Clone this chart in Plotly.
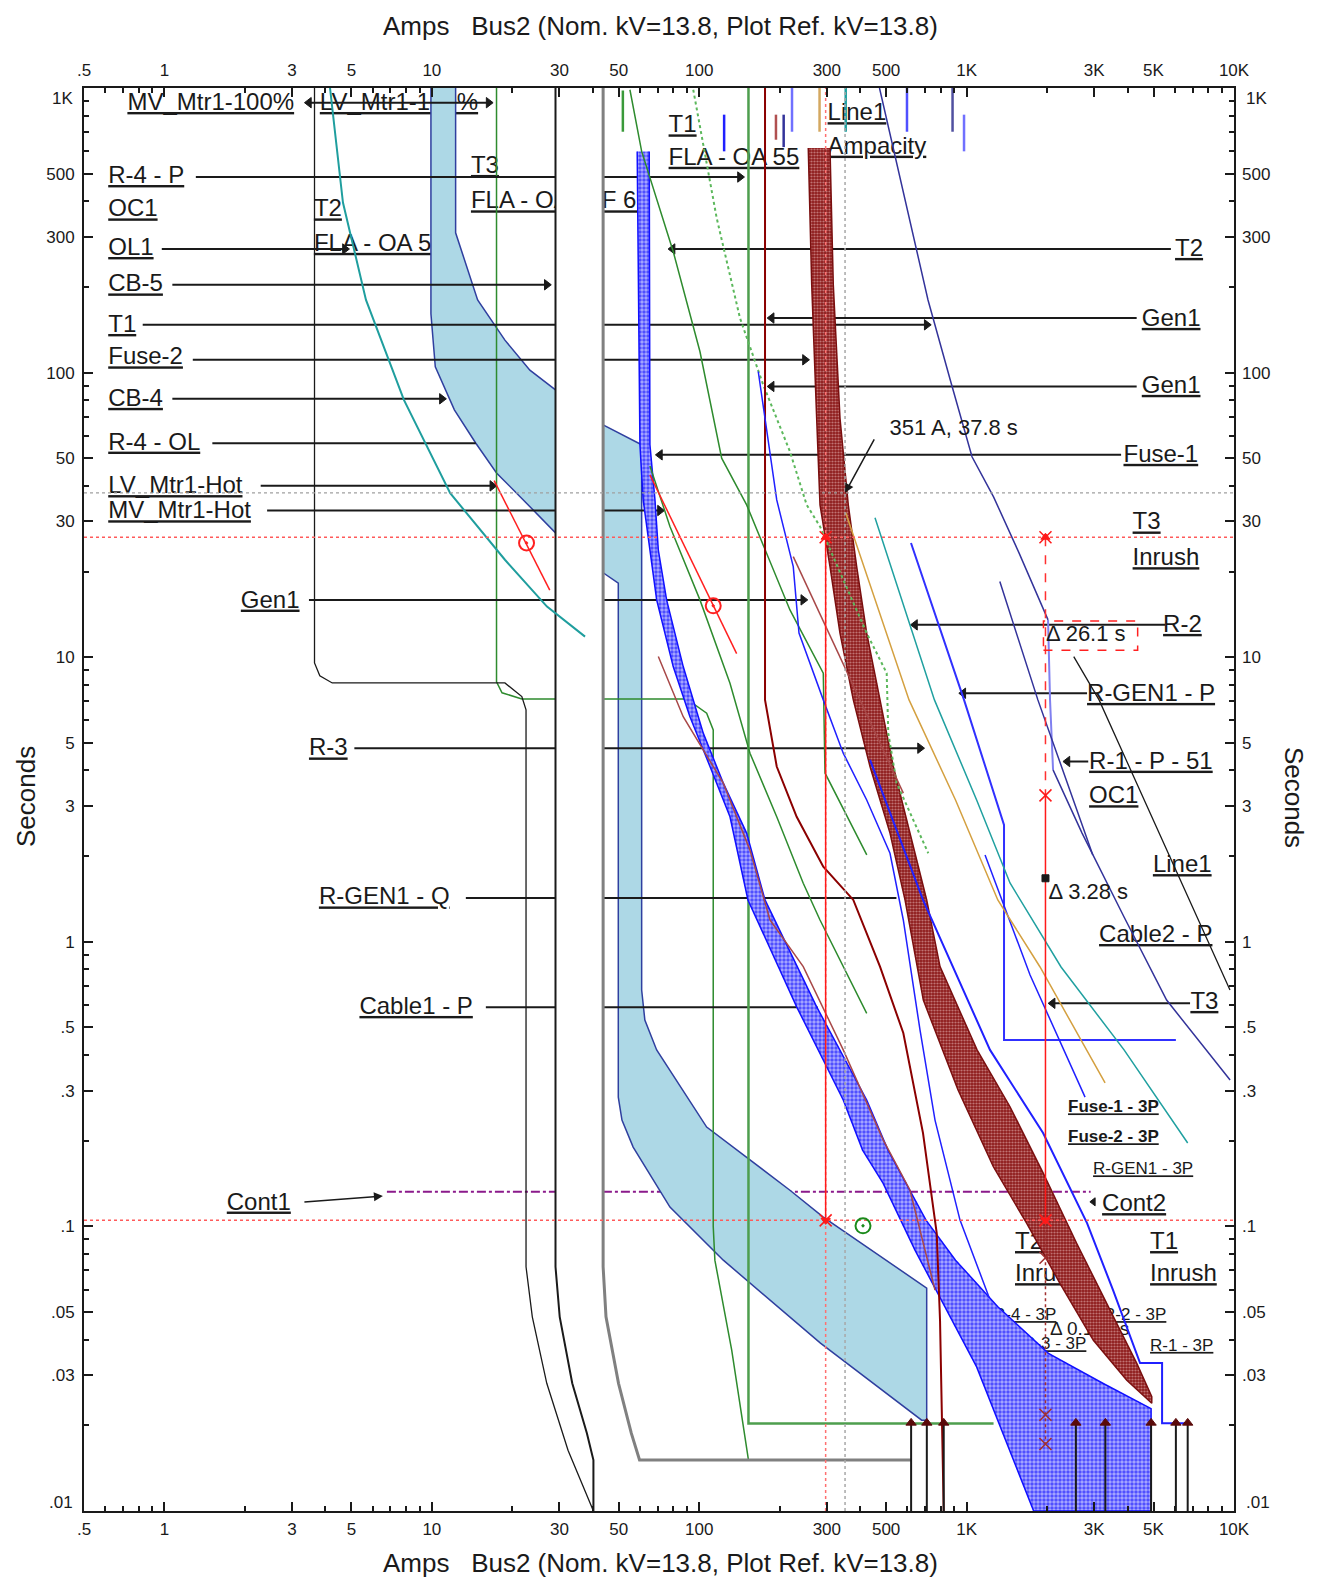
import math
import plotly.graph_objects as go

FONT = "Liberation Sans, Arial, sans-serif"
INK = "#1a1a1a"

# ---------------- axis ticks ----------------
X_TICKS = [0.5, 1, 3, 5, 10, 30, 50, 100, 300, 500, 1000, 3000, 5000, 10000]
X_TICKTEXT = ['.5', '1', '3', '5', '10', '30', '50', '100', '300', '500', '1K', '3K', '5K', '10K']
X_MINOR = [0.6, 0.7, 0.8, 0.9, 2, 4, 6, 7, 8, 9, 20, 40, 60, 70, 80, 90, 200, 400, 600, 700, 800, 900,
           2000, 4000, 6000, 7000, 8000, 9000]
Y_TICKS = [0.01, 0.03, 0.05, 0.1, 0.3, 0.5, 1, 3, 5, 10, 30, 50, 100, 300, 500, 1000]
Y_TICKTEXT = ['', '.03', '.05', '.1', '.3', '.5', '1', '3', '5', '10', '30', '50', '100', '300', '500', '']
Y_END_LABELS = ['1K', '.01']
Y_MINOR = [0.02, 0.04, 0.06, 0.07, 0.08, 0.09, 0.2, 0.4, 0.6, 0.7, 0.8, 0.9, 2, 4, 6, 7, 8, 9,
           20, 40, 60, 70, 80, 90, 200, 400, 600, 700, 800, 900]

# ---------------- bands ----------------
BAND1_A = [12.27, 12.27, 14.83, 18.76, 23.26, 29.0, 43.7, 60.9, 60.9, 62.6, 69.3, 106.6, 218.4, 291, 709, 709,
           679, 284, 123, 77.7, 56.6, 51.4, 49.8, 49.8, 43.7, 29.0, 22.5, 17.45, 14.56, 12.14, 10.3, 9.92, 9.92]
BAND1_S = [1000, 310, 180, 130, 102, 87, 65.5, 55.8, 0.677, 0.531, 0.417, 0.2234, 0.134, 0.1078, 0.0607, 0.02085,
           0.02085, 0.0389, 0.0761, 0.1169, 0.190, 0.2364, 0.2847, 18.2, 19.8, 27.35, 34.9, 44.4, 56.7, 74, 104.8, 161, 1000]

BAND2_A = [58.6, 60.0, 61.7, 65.4, 69.3, 79.9, 92.3, 109.7, 130.3, 152.1, 231.4, 345.6, 408.2, 486.8, 641, 1090, 1781,
           4897, 4897, 3243, 2023, 1308, 908.8, 704.8, 614, 508, 423, 274.9, 176.2, 150.4, 123, 103.5, 87.1, 75.5,
           70.3, 68.3, 65.4, 65.0]
BAND2_S = [598.6, 55.8, 35.7, 23.8, 15.9, 9.27, 6.18, 4.13, 2.75, 1.403, 0.591, 0.278, 0.1854, 0.142, 0.0825, 0.0321, 0.01,
           0.01, 0.0229, 0.02805, 0.0358, 0.0522, 0.0761, 0.1052, 0.134, 0.1854, 0.278, 0.591, 1.403, 2.41, 3.61, 5.41,
           9.27, 15.9, 23.8, 35.7, 55.8, 598.6]

BAND3_A = [255.7, 263.4, 274.9, 282.9, 308.3, 336, 376.9, 435.1, 516.9, 588.3, 688.7, 928.8, 1259, 1678, 2236, 2979,
           3972, 4926, 4926, 4329, 3440, 2582, 1936, 1453, 1094, 795.3, 709, 614.2, 531.9, 474.3, 423, 388, 360.9,
           336, 317.2, 308.3]
BAND3_S = [615.2, 203.5, 69.2, 34.3, 20.8, 12.15, 7.08, 4.13, 2.41, 1.403, 0.624, 0.3013, 0.162, 0.1024, 0.0630, 0.0398,
           0.0288, 0.0239, 0.0252, 0.0330, 0.0508, 0.0871, 0.1536, 0.2633, 0.417, 0.818, 1.403, 2.41, 4.13, 7.08, 12.15,
           20.8, 34.3, 69.2, 203.5, 615.2]

# ---------------- motor starting curves ----------------
M1_A = [3.64, 3.64, 3.81, 4.24, 18.76, 21.7, 22.5, 22.5, 23.75, 26.9, 32.3, 40.2]
M1_S = [1000, 9.55, 8.6, 8.12, 8.12, 7.27, 6.53, 0.0721, 0.0481, 0.0281, 0.01636, 0.01]
M2_A = [29.0, 29.0, 30.07, 33.5, 38.0, 40.2, 40.2]
M2_S = [1000, 0.0721, 0.0481, 0.0281, 0.01877, 0.0151, 0.01]
M3_A = [43.7, 43.7, 44.8, 49.9, 55.7, 59.8, 620]
M3_S = [1000, 0.0721, 0.0481, 0.0281, 0.01877, 0.0151, 0.0151]

# ---------------- other curves ----------------
TEAL_L_A = [4.16, 4.65, 5.67, 7.86, 11.71, 18.76, 26.95, 37.4]
TEAL_L_S = [1000, 396, 180, 80.2, 37.7, 22.0, 15.06, 11.81]
G1_A = [17.45, 17.45, 18.3, 21.7, 89.7, 106.6, 112.8, 112.8, 114.4, 132.3, 152.8]
G1_S = [1000, 8.2, 7.5, 7.135, 7.135, 6.36, 5.55, 0.1, 0.0761, 0.0367, 0.0151]
G2_A = [152.8, 152.8, 1261]
G2_S = [1000, 0.0203, 0.0203]
GA_A = [55.05, 60.9, 79.9, 100.6, 121.3, 150.4, 218.4, 291, 295.3, 423.2]
GA_S = [986, 598.6, 266.5, 118.6, 50.06, 34.3, 14.66, 8.79, 3.92, 2.02]
GB_A = [65.4, 77.7, 100.6, 130.3, 154.8, 194.9, 244.9, 282.9, 423]
GB_S = [47.0, 28.8, 15.9, 8.1, 4.6, 2.75, 1.605, 1.193, 0.5607]
GD_A = [94.97, 116.2, 142, 173.5, 218.4, 252.2, 282.9, 423, 502.4, 509.3, 547.5, 718.9]
GD_S = [986, 349.2, 155.5, 90.6, 52.8, 34.3, 28.8, 12.15, 8.79, 5.41, 3.61, 2.047]
BR2_A = [70.3, 87.1, 123, 154.8, 183.9, 244.9, 345.6, 488.0, 614.2, 761.7]
BR2_S = [10.05, 6.18, 3.61, 2.10, 1.193, 0.818, 0.417, 0.2011, 0.134, 0.0597]
BR3_A = [224.7, 579.7]
BR3_S = [22.57, 3.33]
RC_A = [176.2, 176.2, 194.9, 231.4, 291, 376.9, 474.3, 579.7, 686.9, 772.9, 795.3, 821]
RC_S = [1000, 7.08, 4.13, 2.75, 1.836, 1.403, 0.818, 0.478, 0.2128, 0.0947, 0.0468, 0.01]
LA_A = [166.2, 194.9, 224.7, 236.1, 291, 345.6, 423, 516.9, 579.7, 669.3, 761.7, 944.7, 1213]
LA_S = [100.9, 35.7, 20.8, 12.15, 7.08, 4.6, 3.15, 2.047, 1.193, 0.49, 0.2364, 0.1052, 0.0564]
R1_A = [435.1, 686.9, 1223, 1932, 2821, 3529, 4453, 5383, 5383, 6682]
R1_S = [4.36, 1.403, 0.417, 0.2128, 0.1027, 0.0597, 0.0331, 0.0331, 0.02035, 0.02035]
BR_A = [619.4, 977.9, 1380, 1380, 6062]
BR_S = [25.2, 7.08, 2.573, 0.4517, 0.4517]
BC_A = [1172, 1727, 2773]
BC_S = [2.02, 0.7643, 0.2847]
TEAL_A = [454.3, 757.9, 1090, 1453, 2255, 3880, 6711]
TEAL_S = [30.9, 7.08, 3.15, 1.609, 0.8156, 0.417, 0.1963]
TAN_A = [353, 609, 908.8, 1308, 1882, 3295]
TAN_S = [32.2, 7.08, 3.15, 1.403, 0.8156, 0.3191]
N1A_A = [472.2, 717.1, 874.5, 1047.6, 1261, 1570, 2016]
N1A_S = [1000, 180, 92.1, 50.6, 36.6, 23.26, 13.52]
N1V_A = [2016, 2051, 2105]
N1V_S = [13.52, 7.08, 4.02]
N1B_A = [2105, 2702, 3880, 5597, 9670]
N1B_S = [4.02, 2.41, 1.222, 0.624, 0.3268]
N2_A = [1331, 1847, 2964]
N2_S = [18.44, 7.08, 2.02]
LINE1_A = [2516, 3128, 9660]
LINE1_S = [10.05, 7.08, 0.677]
RED1_A = [17.1, 27.6]
RED1_S = [41.7, 17.2]
RED2_A = [65.4, 138]
RED2_S = [43.7, 10.3]
RED_BULL_A = [22.6, 112.8]
RED_BULL_S = [25.2, 15.15]
GRN_BULL_A = [409.7]
GRN_BULL_S = [0.1005]

# short pickup dashes at the top
DASH_A = [123.9, 193.6, 206.9, 222.3, 281.8, 353, 598.4, 885.9, 977.9, 51.8]
DASH_S0 = [806, 806, 806, 1000, 1000, 1000, 1000, 1000, 806, 980]
DASH_S1 = [599, 658, 620, 702, 702, 702, 702, 702, 599, 702]
DASH_C = ['#2020ff', '#b05050', '#33339a', '#7070ff', '#d4a860', '#20a0a0', '#5050ff', '#5050a0', '#7070ff', '#3a9a3a']

# fault current arrows
FAULT_A = [620, 709.8, 821, 2562, 3303, 4897, 6062, 6711]
FAULT_TOP = 0.0204

# reference markers
REF_RED_S = [26.4, 0.105]
REF_RED_A = [297, 1972]
REF_GRAY_S = 37.8
REF_GRAY_A = 351
CONT1_A = [6.79, 2910]
CONT1_S = 0.1323
DBOX_A = [1938, 4362]
DBOX_S = [10.58, 13.41]
V2_MARK_S = [3.27]
V2_SQ_S = [1.672]
V2_LOW_S = [0.0776, 0.0218, 0.0172]

# ---------------- label leader lines ----------------
LL_S = [486.6, 271.8, 203.5, 147.2, 110.9, 80.9, 56.5, 40.0, 32.76, 15.9, 4.79, 1.426, 0.5886,
        271.8, 155.5, 89.4, 51.4, 12.99, 7.47, 4.3, 0.608, 888]
LL_A0 = [1.31, 0.977, 1.07, 0.829, 1.276, 1.07, 1.51, 2.29, 2.42, 3.47, 5.13, 13.4, 15.92,
         79.5, 186.6, 186.6, 71.3, 641.2, 972, 2383, 2098, 3.47]
LL_A1 = [142, 4.73, 26.9, 709, 248.5, 10.9, 14.6, 16.83, 71.3, 244.9, 669.3, 546.4, 267.1,
         5807, 4325, 4325, 3782, 5524, 2821, 2850, 6849, 16.3]
LL_HEAD = ['r', 'r', 'r', 'r', 'r', 'r', '', 'r', 'r', 'r', 'r', '', 'r',
           'l', 'l', 'l', 'l', 'l', 'l', 'l', 'l', 'lr']

# ---------------- labels ----------------
LBL_TEXT = ["MV_Mtr1-100%", "LV_Mtr1-100%", "R-4 - P", "OC1", "OL1", "CB-5", "T1", "Fuse-2", "CB-4", "R-4 - OL",
            "LV_Mtr1-Hot", "MV_Mtr1-Hot", "Gen1", "T2", "FLA - OA 55", "T3", "FLA - OA 55F 65", "T1", "FLA - OA 55",
            "Line1", "Ampacity", "R-3", "R-GEN1 - Q", "Cable1 - P", "Cont1",
            "T2", "Gen1", "Gen1", "Fuse-1", "T3", "Inrush", "R-2", "R-GEN1 - P", "R-1 - P - 51", "OC1", "Line1",
            "Cable2 - P", "T3", "Cont2", "T1", "Inrush", "T2", "Inrush"]
LBL_A = [0.7266, 3.81, 0.616, 0.616, 0.616, 0.616, 0.616, 0.616, 0.616, 0.616,
         0.616, 0.616, 1.93, 3.62, 3.62, 14.0, 14.0, 76.8, 76.8,
         302, 302, 3.47, 3.78, 5.36, 1.71,
         6020, 4519, 4519, 3861, 4176, 4176, 5430, 2821, 2871, 2871, 4973,
         3128, 6869, 3211, 4854, 4854, 1517, 1517]
LBL_S = [878.8, 878.8, 486.6, 371.4, 271.8, 202.4, 145.8, 112.2, 80.2, 56.3,
         39.6, 32.3, 15.68, 371.4, 281.1, 528, 396.5, 733, 564,
         809, 617, 4.74, 1.42, 0.5855, 0.1203,
         269.8, 153.2, 89.1, 51.0, 29.5, 22.1, 12.88, 7.37, 4.26, 3.22, 1.845,
         1.048, 0.6098, 0.1188, 0.0874, 0.0674, 0.0874, 0.0674]

SMALL_TEXT = ["Fuse-1 - 3P", "Fuse-2 - 3P", "R-GEN1 - 3P", "R-4 - 3P", "R-2 - 3P", "R-3 - 3P", "R-1 - 3P"]
SMALL_A = [2395, 2395, 2971, 1256, 3238, 1626, 4854]
SMALL_S = [0.2604, 0.2044, 0.1577, 0.0485, 0.0485, 0.0383, 0.0378]
SMALL_BOLD = [True, True, False, False, False, False, False]

# notes drawn above the curves
NOTE_TEXT = ["351 A, 37.8 s", "Δ 26.1 s", "Δ 3.28 s"]
NOTE_A = [514.3, 1982, 2025]
NOTE_S = [63.2, 11.91, 1.478]
# note drawn beneath the bands (partly hidden, as in the reference)
LOW_NOTE_TEXT = ["Δ 0.179 s"]
LOW_NOTE_A = [2051]
LOW_NOTE_S = [0.0432]

TITLE_X = "Amps\u00a0\u00a0\u00a0Bus2 (Nom. kV=13.8, Plot Ref. kV=13.8)"
TITLE_Y = "Seconds"

fig = go.Figure()


def add_line(a, s, color, width=1.5, dash=None, fill=None, fillcolor=None, pattern=None, mode='lines'):
    fig.add_trace(go.Scatter(x=a, y=s, mode=mode,
                             line=dict(color=color, width=width, dash=dash),
                             fill=fill, fillcolor=fillcolor, fillpattern=pattern,
                             hoverinfo='skip', showlegend=False))


def add_markers(a, s, symbol, color, size, lw=1.5, fill=None):
    fig.add_trace(go.Scatter(x=a, y=s, mode='markers',
                             marker=dict(symbol=symbol, size=size, color=fill or color,
                                         line=dict(color=color, width=lw)),
                             hoverinfo='skip', showlegend=False))


# 1) labels (lowest layer, so curves cover them)
fig.add_trace(go.Scatter(x=LBL_A, y=LBL_S, mode='text',
                         text=['<u>' + t + '</u>' for t in LBL_TEXT],
                         textposition='middle right',
                         textfont=dict(family=FONT, size=24, color=INK),
                         hoverinfo='skip', showlegend=False))
fig.add_trace(go.Scatter(x=SMALL_A, y=SMALL_S, mode='text',
                         text=[('<u><b>' + t + '</b></u>') if b else ('<u>' + t + '</u>')
                               for t, b in zip(SMALL_TEXT, SMALL_BOLD)],
                         textposition='middle right',
                         textfont=dict(family=FONT, size=17, color=INK),
                         hoverinfo='skip', showlegend=False))
fig.add_trace(go.Scatter(x=LOW_NOTE_A, y=LOW_NOTE_S, mode='text', text=LOW_NOTE_TEXT,
                         textposition='middle right',
                         textfont=dict(family=FONT, size=19, color=INK),
                         hoverinfo='skip', showlegend=False))

# Cont1 purple line (under band)
add_line(CONT1_A, [CONT1_S, CONT1_S], '#8b1a8b', 2, 'dashdot')

# 2) light-blue band
add_line(BAND1_A, BAND1_S, '#2f3f9f', 1.5, fill='toself', fillcolor='#add8e6')

# green long-time curve
add_line(G1_A, G1_S, '#2e8b2e', 1.5)

# 3) leader lines
for s, a0, a1, h in zip(LL_S, LL_A0, LL_A1, LL_HEAD):
    add_line([a0, a1], [s, s], INK, 2)
    if 'r' in h:
        add_markers([a1], [s], 'triangle-right', INK, 9, 1)
    if 'l' in h:
        add_markers([a0], [s], 'triangle-left', INK, 9, 1)

# 4) white strip between motor curves
strip_a = M2_A[:-1] + M3_A[:-1][::-1]
strip_s = M2_S[:-1] + M3_S[:-1][::-1]
add_line(strip_a, strip_s, 'rgba(0,0,0,0)', 0, fill='toself', fillcolor='white')

# motor curves
add_line(M1_A, M1_S, INK, 1.3)
add_line(M2_A, M2_S, INK, 2)
add_line(M3_A, M3_S, '#808080', 3)
add_line(G2_A, G2_S, '#4e9e4e', 2.5)

# 5) bands
add_line(BAND2_A, BAND2_S, '#1010ff', 1.5, fill='toself', fillcolor='#6a6aff',
         pattern=dict(shape='.', fgcolor='white', bgcolor='#4646ff', size=4, solidity=0.6))
add_line(BAND3_A, BAND3_S, '#7a0f0f', 1.5, fill='toself', fillcolor='#8b1a1a',
         pattern=dict(shape='.', fgcolor='#f2cccc', bgcolor='#8e1b1b', size=3, solidity=0.42))

# 6) thin curves
add_line(TEAL_L_A, TEAL_L_S, '#1f9e9e', 2)
add_line(GA_A, GA_S, '#2e8b2e', 1.5)
add_line(GB_A, GB_S, '#2e8b2e', 1.5)
add_line(GD_A, GD_S, '#5cb85c', 2, 'dot')
add_line(BR2_A, BR2_S, '#a84848', 1.5)
add_line(BR3_A, BR3_S, '#a84848', 1.5)
add_line(RC_A, RC_S, '#8b0000', 2)
add_line(LA_A, LA_S, '#2020ff', 1.5)
add_line(R1_A, R1_S, '#2020ff', 2)
add_line(BR_A, BR_S, '#3030ff', 2)
add_line(BC_A, BC_S, '#2020ff', 1.5)
add_line(TEAL_A, TEAL_S, '#20a0a0', 1.5)
add_line(TAN_A, TAN_S, '#d4a040', 1.5)
add_line(N1A_A, N1A_S, '#33339a', 1.5)
add_line(N1V_A, N1V_S, '#8080f0', 2)
add_line(N1B_A, N1B_S, '#33339a', 1.5)
add_line(N2_A, N2_S, '#33339a', 1.5)
add_line(LINE1_A, LINE1_S, INK, 1.3)
add_line(RED1_A, RED1_S, '#ff2020', 1.5)
add_line(RED2_A, RED2_S, '#ff2020', 1.5)
for a, s0, s1, c in zip(DASH_A, DASH_S0, DASH_S1, DASH_C):
    add_line([a, a], [s0, s1], c, 2.5)

# fault arrows
for a in FAULT_A:
    add_line([a, a], [0.01, FAULT_TOP], INK, 2)
add_markers(FAULT_A, [FAULT_TOP] * len(FAULT_A), 'triangle-up', '#5a0a0a', 9, 1)

# 7) reference lines
for s in REF_RED_S:
    add_line([0.5, 10000], [s, s], '#ff5a5a', 1.5, 'dot')
add_line([REF_RED_A[0]] * 2, [0.01, 1000], '#ff7070', 1.5, 'dot')
add_line([REF_GRAY_A] * 2, [0.01, 1000], '#a8a8a8', 1.5, 'dot')
add_line([0.5, 10000], [REF_GRAY_S] * 2, '#a0a0a0', 1.2, 'dot')
add_line([REF_RED_A[0]] * 2, REF_RED_S, '#ff1a1a', 1.5)
add_line([REF_RED_A[1]] * 2, [REF_RED_S[0], V2_MARK_S[0]], '#ff3030', 1.5, 'dash')
add_line([REF_RED_A[1]] * 2, [V2_MARK_S[0], REF_RED_S[1]], '#ff1a1a', 1.5)
add_line([REF_RED_A[1]] * 2, [REF_RED_S[1], V2_LOW_S[-1]], '#a03030', 1.5, 'dot')
add_markers([REF_RED_A[0], REF_RED_A[1]], [REF_RED_S[0]] * 2, 'triangle-up', '#ff1a1a', 8, 1)
add_markers([REF_RED_A[0], REF_RED_A[1]], [REF_RED_S[1]] * 2, 'triangle-down', '#ff1a1a', 8, 1)
add_markers([REF_RED_A[0], REF_RED_A[1], REF_RED_A[0], REF_RED_A[1], REF_RED_A[1]],
            [REF_RED_S[0], REF_RED_S[0], REF_RED_S[1], REF_RED_S[1], V2_MARK_S[0]],
            'x-thin', '#ff1a1a', 12, 1.5)
add_markers([REF_RED_A[1]] * 3, V2_LOW_S, 'x-thin', '#a03030', 12, 1.5)
add_markers([REF_RED_A[1]], V2_SQ_S, 'square', INK, 7, 1)
add_line([DBOX_A[0], DBOX_A[1], DBOX_A[1], DBOX_A[0], DBOX_A[0]],
         [DBOX_S[0], DBOX_S[0], DBOX_S[1], DBOX_S[1], DBOX_S[0]], '#ff2020', 1.5, 'dash')

# bullseyes
add_markers(RED_BULL_A, RED_BULL_S, 'circle-open-dot', '#ff2020', 15, 2)
add_markers(GRN_BULL_A, GRN_BULL_S, 'circle-open-dot', '#1a8a1a', 15, 2)
add_markers([2979], [0.122], 'triangle-left', INK, 7, 1)

# notes (not underlined)
fig.add_trace(go.Scatter(x=NOTE_A, y=NOTE_S, mode='text', text=NOTE_TEXT,
                         textposition='middle right',
                         textfont=dict(family=FONT, size=22, color=INK),
                         hoverinfo='skip', showlegend=False))

# dummy trace for top/right axes
fig.add_trace(go.Scatter(x=[1], y=[1], xaxis='x2', yaxis='y2', mode='markers',
                         marker=dict(opacity=0), hoverinfo='skip', showlegend=False))

xr = [math.log10(0.5), 4]
yr = [-2, 3]
tickfont = dict(family=FONT, size=17, color=INK)
common_x = dict(type='log', range=xr, tickvals=X_TICKS, ticktext=X_TICKTEXT, ticks='inside',
                ticklen=9, tickwidth=2, tickcolor=INK, showgrid=False, zeroline=False,
                tickfont=tickfont, automargin=False,
                minor=dict(tickvals=X_MINOR, ticks='inside', ticklen=5, tickwidth=2,
                           tickcolor=INK, showgrid=False))
common_y = dict(type='log', range=yr, tickvals=Y_TICKS, ticktext=Y_TICKTEXT, ticks='inside',
                ticklen=9, tickwidth=2, tickcolor=INK, showgrid=False, zeroline=False,
                tickfont=tickfont, automargin=False,
                minor=dict(tickvals=Y_MINOR, ticks='inside', ticklen=5, tickwidth=2,
                           tickcolor=INK, showgrid=False))

title_font = dict(family=FONT, size=26, color=INK)
end_font = dict(family=FONT, size=17, color=INK)

# the page body has an 8 px margin, so the figure is sized to fit the 1322x1589 window
fig.update_layout(
    width=1306, height=1573,
    margin=dict(l=76, r=80, t=80, b=70),
    paper_bgcolor='white', plot_bgcolor='white',
    showlegend=False, hovermode=False,
    xaxis=dict(**common_x, showline=True, linewidth=2, linecolor=INK, mirror=True, ticklabelstandoff=2),
    yaxis=dict(**common_y, showline=True, linewidth=2, linecolor=INK, mirror=True, ticklabelstandoff=4),
    xaxis2=dict(**common_x, overlaying='x', side='top', anchor='y', showline=False, ticklabelstandoff=8),
    yaxis2=dict(**common_y, overlaying='y', side='right', anchor='x', showline=False, ticklabelstandoff=7),
    annotations=[
        dict(text=TITLE_X, xref='paper', yref='paper', x=0.5017, y=1.0436, showarrow=False,
             xanchor='center', yanchor='middle', font=title_font),
        dict(text=TITLE_X, xref='paper', yref='paper', x=0.5017, y=-0.0365, showarrow=False,
             xanchor='center', yanchor='middle', font=title_font),
        dict(text=TITLE_Y, xref='paper', yref='paper', x=-0.0504, y=0.5018, showarrow=False,
             textangle=-90, xanchor='center', yanchor='middle', font=title_font),
        dict(text=TITLE_Y, xref='paper', yref='paper', x=1.0522, y=0.5018, showarrow=False,
             textangle=90, xanchor='center', yanchor='middle', font=title_font),
        dict(text=Y_END_LABELS[0], xref='paper', yref='paper', x=-0.0078, y=0.9923, showarrow=False,
             xanchor='right', yanchor='middle', font=end_font),
        dict(text=Y_END_LABELS[1], xref='paper', yref='paper', x=-0.0078, y=0.0063, showarrow=False,
             xanchor='right', yanchor='middle', font=end_font),
        dict(text=Y_END_LABELS[0], xref='paper', yref='paper', x=1.0087, y=0.9923, showarrow=False,
             xanchor='left', yanchor='middle', font=end_font),
        dict(text=Y_END_LABELS[1], xref='paper', yref='paper', x=1.0087, y=0.0063, showarrow=False,
             xanchor='left', yanchor='middle', font=end_font),
        dict(text='', x=math.log10(351), y=math.log10(37.8), xref='x', yref='y',
             showarrow=True, arrowhead=2, arrowsize=1.2, arrowwidth=1.5, arrowcolor=INK, ax=30, ay=-55),
        dict(text='', x=math.log10(6.56), y=math.log10(0.1278), xref='x', yref='y',
             showarrow=True, arrowhead=2, arrowsize=1.2, arrowwidth=1.5, arrowcolor=INK, ax=-80, ay=6),
    ],
)

fig.write_html("out.html")
